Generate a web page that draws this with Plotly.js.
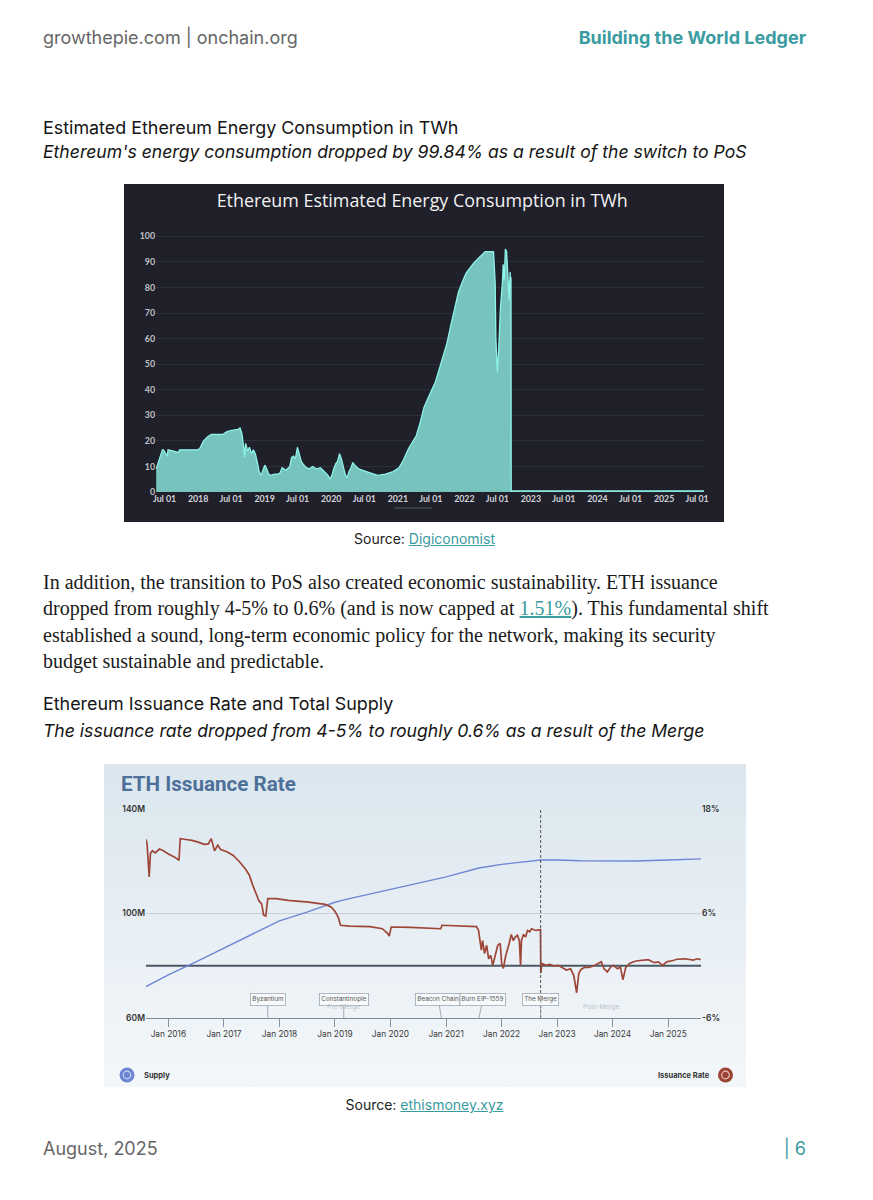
<!DOCTYPE html>
<html><head><meta charset="utf-8">
<script src="https://cdn.plot.ly/plotly-3.0.1.min.js"></script>
<style>
html,body{margin:0;padding:0;background:#fff;}
#page{position:relative;width:873px;height:1200px;background:#fff;overflow:hidden;font-family:Inter,"Noto Sans",sans-serif;}
.t{position:absolute;white-space:nowrap;}
a{color:#3a9ba0;text-decoration:underline;}
#c1{position:absolute;left:124px;top:184px;width:600px;height:338px;background:#1f2029;}
#c2{position:absolute;left:104px;top:764px;width:642px;height:323px;background:linear-gradient(180deg,#dbe6ee 0%,#e6eef4 45%,#eef3f7 75%,#f3f7fa 100%);}
</style></head>
<body>
<div id="page">
  <div class="t" style="left:43px;top:26px;font-size:18px;line-height:24px;color:#666;">growthepie.com | onchain.org</div>
  <div class="t" style="right:67px;top:26px;font-size:18px;line-height:24px;color:#3a9ba0;font-weight:700;">Building the World Ledger</div>

  <div class="t" style="left:43px;top:116px;font-size:17.9px;line-height:24px;color:#151515;">Estimated Ethereum Energy Consumption in TWh</div>
  <div class="t" style="left:43px;top:140px;font-size:17.6px;line-height:24px;color:#151515;font-style:italic;">Ethereum's energy consumption dropped by 99.84% as a result of the switch to PoS</div>

  <div id="c1"></div>
  <div class="t" style="left:0;width:849px;text-align:center;top:530px;font-size:14px;line-height:18px;color:#222;">Source: <a>Digiconomist</a></div>

  <div class="t" style="left:43px;top:569px;font-family:'Liberation Serif','DejaVu Serif',serif;font-size:20px;line-height:26.3px;color:#1a1a1a;">In addition, the transition to PoS also created economic sustainability. ETH issuance<br>dropped from roughly 4-5% to 0.6% (and is now capped at <a>1.51%</a>). This fundamental shift<br>established a sound, long-term economic policy for the network, making its security<br>budget sustainable and predictable.</div>

  <div class="t" style="left:43px;top:692px;font-size:17.9px;line-height:24px;color:#151515;">Ethereum Issuance Rate and Total Supply</div>
  <div class="t" style="left:43px;top:719px;font-size:17.6px;line-height:24px;color:#151515;font-style:italic;">The issuance rate dropped from 4-5% to roughly 0.6% as a result of the Merge</div>

  <div id="c2"></div>
  <div class="t" style="left:0;width:849px;text-align:center;top:1096px;font-size:14px;line-height:18px;color:#222;">Source: <a>ethismoney.xyz</a></div>

  <div class="t" style="left:43px;top:1137px;font-size:18px;line-height:24px;color:#666;">August, 2025</div>
  <div class="t" style="right:67px;top:1137px;font-size:18px;line-height:24px;color:#3a9ba0;">| 6</div>
</div>

<script>
// ---------- Chart 1 data: Ethereum estimated energy consumption (TWh) ----------
const energyDates = [
 '2017-05-16','2017-06-19','2017-06-25','2017-07-16','2017-07-20','2017-09-16','2017-09-21','2017-12-30',
 '2018-01-10','2018-01-31','2018-02-21','2018-03-14','2018-05-16','2018-06-06','2018-06-27','2018-08-08','2018-08-19',
 '2018-08-29','2018-09-09','2018-09-13','2018-09-19','2018-09-30','2018-10-10','2018-10-21','2018-10-31','2018-11-11',
 '2018-11-21','2018-12-02','2018-12-12','2018-12-23','2019-01-02','2019-01-13','2019-01-23','2019-02-03','2019-02-24',
 '2019-03-17','2019-03-27','2019-04-07','2019-04-28','2019-05-19','2019-05-29','2019-06-09','2019-06-19','2019-06-30',
 '2019-07-10','2019-07-21','2019-07-31','2019-08-11','2019-09-01','2019-09-22','2019-10-13','2019-11-03','2019-11-24',
 '2019-12-15','2019-12-25','2020-01-05','2020-01-15','2020-01-26','2020-02-05','2020-02-16','2020-02-26','2020-03-08',
 '2020-03-18','2020-03-29','2020-04-08','2020-04-19','2020-04-29','2020-05-10','2020-05-31','2020-07-12','2020-08-23',
 '2020-09-13','2020-10-25','2020-12-06','2021-01-07','2021-01-28','2021-03-01','2021-04-12','2021-05-03','2021-05-24',
 '2021-06-14','2021-07-05','2021-07-26','2021-08-16','2021-09-06','2021-09-27','2021-10-18','2021-11-08','2021-11-29',
 '2021-12-20','2022-01-10','2022-01-31','2022-02-21','2022-03-14','2022-04-04','2022-04-25','2022-06-10','2022-06-14',
 '2022-06-19','2022-06-23','2022-06-27','2022-07-01','2022-07-08','2022-07-14','2022-07-18','2022-07-29','2022-08-02',
 '2022-08-08','2022-08-14','2022-08-21','2022-08-27','2022-09-04','2022-09-09','2022-09-12','2022-09-14','2022-09-15',
 '2023-01-01','2024-01-01','2025-01-01','2025-08-08'];
const energyTWh = [
 9,16.5,16.5,14,16.5,15.5,16.5,16.5,
 17,20,21.5,22.5,22.5,23.5,24,24.5,25,
 23,17,13.5,19,16,17.5,15,16.5,15,
 12,8,6.5,9,10.5,9,7,6.5,7,
 7,7.5,9.5,8.5,10,13.5,14,13,17.5,
 14.5,12,11,10,9,10,9,9.5,8,
 6.5,5,6.5,9,11,12,15,13,10,
 7,5.5,8,9.5,11.5,10.5,9,8,7,
 6.5,7,8,9.5,12,17,22,27,33,
 36.5,40,43,48,53,58,65,72,78,
 82,85.5,87.5,89.5,91,92.5,94,94,88,
 82,60,52,47,55,65,72,82,89,
 83,95,94,85,75,86,80,84,0.4,
 0.4,0.4,0.4,0.4];
const energyTickVals = ['2017-07-01','2018-01-01','2018-07-01','2019-01-01','2019-07-01','2020-01-01','2020-07-01','2021-01-01','2021-07-01','2022-01-01','2022-07-01','2023-01-01','2023-07-01','2024-01-01','2024-07-01','2025-01-01','2025-07-01'];
const energyTickText = ['Jul 01','2018','Jul 01','2019','Jul 01','2020','Jul 01','2021','Jul 01','2022','Jul 01','2023','Jul 01','2024','Jul 01','2025','Jul 01'];
const energyYTicks = [0,10,20,30,40,50,60,70,80,90,100];

// ---------- Chart 2 data: ETH supply (M) and issuance rate (%) ----------
const supplyDates = ['2015-08-07','2016-01-01','2016-07-01','2017-01-01','2017-07-01','2017-10-16','2018-01-01','2018-07-01','2019-01-01','2019-03-01','2020-01-01','2021-01-01','2021-08-05','2022-01-01','2022-09-15','2023-01-01','2023-06-01','2024-01-01','2024-06-01','2025-01-01','2025-08-04'];
const supplyM = [72.0,76.5,81.5,86.8,92.0,95.0,97.2,100.5,104.3,105.2,109.2,114.0,117.4,118.8,120.5,120.5,120.2,120.2,120.1,120.5,120.9];

const issuanceDates = [
 '2015-08-07','2015-08-14','2015-08-28','2015-09-05','2015-09-18','2015-10-07','2015-11-03','2015-11-30','2015-12-27',
 '2016-01-22','2016-02-18','2016-03-11','2016-03-19','2016-04-25','2016-06-05','2016-07-15','2016-08-24','2016-09-20',
 '2016-10-09','2016-10-31','2016-11-21','2016-12-10','2017-01-20','2017-03-01','2017-04-10','2017-05-21','2017-06-17',
 '2017-07-06','2017-07-27','2017-08-18','2017-09-06','2017-09-19','2017-10-03','2017-10-16','2017-12-09','2018-02-27',
 '2018-07-12','2018-10-28','2018-12-07','2019-01-03','2019-01-22','2019-02-07','2019-04-07','2019-08-20','2019-11-09',
 '2019-12-14','2019-12-24','2020-01-06','2020-05-14','2020-09-26','2020-11-27','2020-12-05','2021-04-03','2021-07-20',
 '2021-08-02','2021-08-10','2021-08-21','2021-08-29','2021-09-11','2021-09-25','2021-10-08','2021-10-22','2021-11-04',
 '2021-11-18','2021-12-07','2021-12-23','2022-01-02','2022-01-13','2022-01-29','2022-02-20','2022-03-06','2022-03-19',
 '2022-04-01','2022-04-15','2022-04-28','2022-05-06','2022-05-12','2022-05-25','2022-06-08','2022-06-21','2022-07-05',
 '2022-07-18','2022-08-14','2022-09-14','2022-09-16','2022-09-24','2022-10-20','2022-11-16','2022-12-13','2023-01-09',
 '2023-02-05','2023-03-04','2023-03-31','2023-04-21','2023-05-10','2023-05-24','2023-06-06','2023-07-03','2023-07-30',
 '2023-09-08','2023-10-19','2023-11-06','2023-11-28','2023-12-19','2024-01-07','2024-02-03','2024-02-22','2024-03-09',
 '2024-03-28','2024-04-24','2024-06-03','2024-07-13','2024-08-22','2024-10-02','2024-10-29','2024-11-25','2024-12-22',
 '2025-02-01','2025-02-27','2025-04-22','2025-06-15','2025-07-12','2025-08-03'];
const issuancePct = [
 14.5,14.0,10.2,12.9,13.2,12.95,13.4,13.2,12.9,
 12.7,12.4,12.1,14.6,14.5,14.4,14.2,13.95,14.0,
 14.6,13.2,13.85,13.35,13.1,12.7,12.0,11.15,10.4,
 9.4,8.5,7.5,7.1,5.8,5.7,7.7,7.7,7.5,
 7.3,7.05,6.75,6.2,5.6,4.65,4.55,4.5,4.25,
 3.7,3.4,4.45,4.4,4.35,4.25,4.65,4.6,4.5,
 4.1,3.3,1.8,2.9,1.4,2.35,0.8,1.2,0.05,
 1.0,2.35,2.55,0.25,-0.3,1.2,2.55,3.6,2.9,
 3.3,3.5,2.9,0.0,2.9,3.6,3.3,4.05,3.9,
 4.25,4.05,4.15,-0.85,0.25,0.05,0.15,-0.05,0.05,
 -0.2,-0.5,-0.35,-1.1,-3.1,-0.9,-0.45,-0.15,-0.2,
 0.05,0.45,-0.35,-0.7,-0.15,0.05,-0.35,-0.15,-1.6,
 -0.2,0.3,0.55,0.6,0.7,0.35,0.45,0.05,0.45,
 0.6,0.75,0.8,0.65,0.8,0.7];

const issuanceTickVals = ['2016-01-01','2017-01-01','2018-01-01','2019-01-01','2020-01-01','2021-01-01','2022-01-01','2023-01-01','2024-01-01','2025-01-01'];
const issuanceTickText = ['Jan 2016','Jan 2017','Jan 2018','Jan 2019','Jan 2020','Jan 2021','Jan 2022','Jan 2023','Jan 2024','Jan 2025'];
const supplyTickVals = [60,100,140];
const supplyTickText = ['60M','100M','140M'];
const rateTickVals = [-6,6,18];
const rateTickText = ['-6%','6%','18%'];
const eventNames = ['Byzantium','Constantinople','Beacon Chain','Burn EIP-1559','The Merge'];
const eventDates = ['2017-10-16','2019-02-28','2020-12-01','2021-08-05','2022-09-15'];
const mergeDate = '2022-09-15';

// ---------- Chart 1 ----------
(function(){
  const W=600,H=338,L=32,R=20,T=51,B=30;
  const pw=W-L-R, ph=H-T-B;
  const X=px=>(px-L)/pw, Y=py=>(H-B-py)/ph; // container pixel -> paper
  Plotly.newPlot('c1',[{
    type:'scatter',mode:'lines',x:energyDates,y:energyTWh,
    fill:'tozeroy',fillcolor:'#77c3be',line:{color:'#8ef3ea',width:1.3},hoverinfo:'skip'
  }],{
    width:W,height:H,margin:{l:L,r:R,t:T,b:B},
    paper_bgcolor:'#1f2029',plot_bgcolor:'#1f2029',showlegend:false,
    font:{family:'Lato, sans-serif',color:'#c8c8d0'},
    title:{text:'Ethereum Estimated Energy Consumption in TWh',x:0.497,xanchor:'center',y:1-16.7/H,yanchor:'middle',
      font:{family:'Open Sans, sans-serif',size:17.9,color:'#f2f2f2'}},
    xaxis:{type:'date',range:['2017-05-15','2025-08-08'],tickvals:energyTickVals,ticktext:energyTickText,
      showgrid:false,zeroline:false,showline:false,ticks:'',tickfont:{size:8.8,color:'#d2d2da',weight:700}},
    yaxis:{range:[0,100.5],tickvals:energyYTicks,showgrid:true,gridcolor:'#2d2f3a',gridwidth:1,zeroline:false,
      ticks:'',tickfont:{size:8.8,color:'#c0c0c8',weight:700}},
    shapes:[{type:'line',xref:'paper',yref:'paper',x0:X(394-124),x1:X(432-124),y0:Y(508-184),y1:Y(508-184),line:{color:'#555865',width:1}}]
  },{displayModeBar:false,staticPlot:true});
})();

// ---------- Chart 2 ----------
(function(){
  const W=642,H=323,L=42,R=45,T=45,B=69;
  const pw=W-L-R, ph=H-T-B;
  const ox=104, oy=764;
  const X=px=>(px-ox-L)/pw, Y=py=>(H-B-(py-oy))/ph; // page pixel -> paper
  const anns=[];
  const evOffsets=[0,0,-3,4,0];
  eventNames.forEach((n,i)=>{
    anns.push({x:eventDates[i],xref:'x',y:0,yref:'paper',text:n,showarrow:true,arrowhead:0,arrowwidth:0.8,arrowcolor:'#8f99a2',
      ax:evOffsets[i],ay:-19,font:{size:6.3,color:'#555',family:'Inter, sans-serif'},bgcolor:'rgba(255,255,255,0.55)',
      bordercolor:'#a2abb3',borderwidth:0.8,borderpad:1.5});
  });
  anns.push({x:X(343.5),y:Y(1013),xref:'paper',yref:'paper',text:'Pre-Merge',showarrow:false,font:{size:6.5,color:'#b9c3cb'}});
  anns.push({x:X(621),y:Y(1013),xref:'paper',yref:'paper',text:'Post-Merge',showarrow:false,font:{size:6.5,color:'#b9c3cb'}});
  anns.push({x:X(119),y:Y(784),xref:'paper',yref:'paper',xanchor:'left',yanchor:'middle',text:'<b>ETH Issuance Rate</b>',showarrow:false,
    font:{size:20.6,color:'#4d7099',family:'Roboto, sans-serif'}});
  anns.push({x:X(142),y:Y(1075),xref:'paper',yref:'paper',xanchor:'left',yanchor:'middle',text:'<b>Supply</b>',showarrow:false,font:{size:7.5,color:'#333'}});
  anns.push({x:X(712),y:Y(1075),xref:'paper',yref:'paper',xanchor:'right',yanchor:'middle',text:'<b>Issuance Rate</b>',showarrow:false,font:{size:7.5,color:'#333'}});
  const circ=(cx,cy,r,fill,line,lw)=>({type:'circle',xref:'paper',yref:'paper',x0:X(cx-r),x1:X(cx+r),y0:Y(cy+r),y1:Y(cy-r),
    fillcolor:fill,line:{color:line,width:lw}});
  Plotly.newPlot('c2',[
    {type:'scatter',mode:'lines',x:supplyDates,y:supplyM,yaxis:'y',line:{color:'#6e86d6',width:1.4},hoverinfo:'skip'},
    {type:'scatter',mode:'lines',x:issuanceDates,y:issuancePct,yaxis:'y2',line:{color:'#9e4637',width:1.7},hoverinfo:'skip'}
  ],{
    width:W,height:H,margin:{l:L,r:R,t:T,b:B},
    paper_bgcolor:'rgba(0,0,0,0)',plot_bgcolor:'rgba(0,0,0,0)',showlegend:false,
    font:{family:'Inter, sans-serif',color:'#333'},
    xaxis:{type:'date',range:['2015-08-07','2025-08-05'],tickvals:issuanceTickVals,ticktext:issuanceTickText,
      showgrid:false,zeroline:false,showline:true,linecolor:'#7f8a93',linewidth:1.2,ticks:'outside',ticklen:8,tickcolor:'#8a949c',
      tickfont:{size:8.3,color:'#3a3a3a'}},
    yaxis:{range:[60,140],tickvals:supplyTickVals,ticktext:supplyTickText,showgrid:true,gridcolor:'#c3ced7',gridwidth:1,
      zeroline:false,showline:false,ticks:'',tickfont:{size:8.5,color:'#333',weight:600}},
    yaxis2:{range:[-6,18],overlaying:'y',side:'right',tickvals:rateTickVals,ticktext:rateTickText,showgrid:false,
      zeroline:false,showline:false,ticks:'',tickfont:{size:8.5,color:'#333',weight:600}},
    shapes:[
      {type:'line',xref:'paper',yref:'y2',x0:0,x1:1,y0:0,y1:0,line:{color:'#4a5866',width:2},layer:'below'},
      {type:'line',xref:'x',yref:'paper',x0:mergeDate,x1:mergeDate,y0:0,y1:1,line:{color:'#555',width:1,dash:'3px,2px'}},
      circ(127,1075,7.5,'#6c84d4','#6c84d4',0),
      circ(127,1075,3.8,'rgba(0,0,0,0)','#c9d3f2',1.2),
      circ(725.5,1075,7.5,'#9b4435','#9b4435',0),
      circ(725.5,1075,3.8,'rgba(0,0,0,0)','#e8c4bc',1.2)
    ],
    annotations:anns
  },{displayModeBar:false,staticPlot:true});
})();
</script>
</body></html>
